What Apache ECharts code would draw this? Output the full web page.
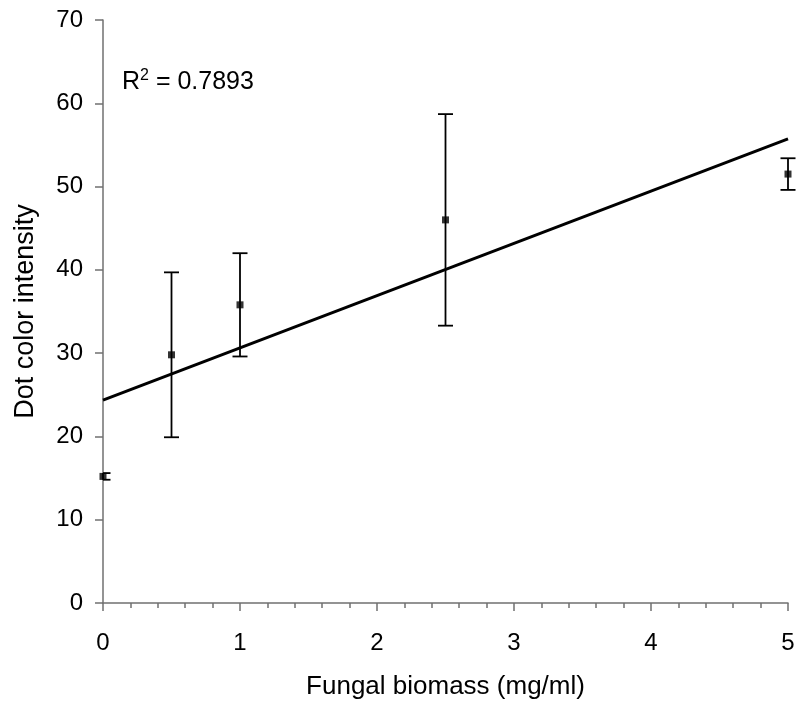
<!DOCTYPE html>
<html>
<head>
<meta charset="utf-8">
<script src="https://cdn.jsdelivr.net/npm/echarts@6/dist/echarts.min.js"></script>
<style>
  html, body { margin: 0; padding: 0; background: #fff; }
  #chart { width: 800px; height: 706px; }
</style>
</head>
<body>
<div id="chart"></div>
<script>
// Fungal biomass (mg/ml) vs. dot colour intensity, mean ± error
const biomass = [0, 0.5, 1, 2.5, 5];
const intensity = [15.2, 29.8, 35.8, 46.0, 51.5];
const errorAmt = [0.4, 9.9, 6.2, 12.7, 1.9];
const xTicks = [0, 1, 2, 3, 4, 5];
const yTicks = [0, 10, 20, 30, 40, 50, 60, 70];
const rSquaredText = '0.7893';

// least-squares linear trend through the means
function linearFit(xs, ys) {
  const n = xs.length;
  const mx = xs.reduce((a, b) => a + b, 0) / n;
  const my = ys.reduce((a, b) => a + b, 0) / n;
  let sxy = 0, sxx = 0;
  for (let i = 0; i < n; i++) {
    sxy += (xs[i] - mx) * (ys[i] - my);
    sxx += (xs[i] - mx) * (xs[i] - mx);
  }
  const slope = sxy / sxx;
  return { slope, intercept: my - slope * mx };
}
const fit = linearFit(biomass, intensity);
const xMin = xTicks[0], xMax = xTicks[xTicks.length - 1];
const trend = [
  [xMin, fit.intercept + fit.slope * xMin],
  [xMax, fit.intercept + fit.slope * xMax]
];

const points = biomass.map((x, i) => [x, intensity[i]]);
const bars = biomass.map((x, i) => [x, intensity[i] - errorAmt[i], intensity[i] + errorAmt[i]]);

const FONT = '"Liberation Sans", Arial, sans-serif';
const AXIS_COLOR = '#707070';

const chart = echarts.init(document.getElementById('chart'), null, { renderer: 'canvas' });
chart.setOption({
  animation: false,
  backgroundColor: '#ffffff',
  grid: {
    left: 103, right: 12, top: 20, bottom: 103,
    containLabel: false,
    outerBoundsMode: 'none'
  },
  xAxis: {
    type: 'value',
    min: xMin, max: xMax, interval: 1,
    name: 'Fungal biomass (mg/ml)',
    nameLocation: 'middle',
    nameGap: 71,
    nameTextStyle: { fontFamily: FONT, fontSize: 26, color: '#000' },
    axisLine: { show: true, onZero: false, lineStyle: { color: AXIS_COLOR, width: 1.5 } },
    axisTick: { show: true, inside: false, length: 8, lineStyle: { color: AXIS_COLOR, width: 1.5 } },
    minorTick: { show: true, splitNumber: 5, length: 5, lineStyle: { color: AXIS_COLOR, width: 1.5 } },
    axisLabel: { fontFamily: FONT, fontSize: 24, color: '#000', margin: 28 },
    splitLine: { show: false }
  },
  yAxis: {
    type: 'value',
    min: yTicks[0], max: yTicks[yTicks.length - 1], interval: 10,
    name: 'Dot color intensity',
    nameLocation: 'middle',
    nameGap: 64,
    nameTextStyle: { fontFamily: FONT, fontSize: 27, color: '#000' },
    axisLine: { show: true, onZero: false, lineStyle: { color: AXIS_COLOR, width: 1.5 } },
    axisTick: { show: true, inside: false, length: 8, lineStyle: { color: AXIS_COLOR, width: 1.5 } },
    axisLabel: { fontFamily: FONT, fontSize: 24, color: '#000', margin: 20 },
    splitLine: { show: false }
  },
  graphic: [{
    type: 'text',
    left: 122,
    top: 68,
    style: {
      rich: {
        base: { fontFamily: FONT, fontSize: 25, fill: '#000' },
        sup: { fontFamily: FONT, fontSize: 16, fill: '#000', padding: [0, 0, 12, 0] }
      },
      text: '{base|R}{sup|2}{base| = ' + rSquaredText + '}'
    }
  }],
  series: [
    {
      type: 'line',
      data: trend,
      showSymbol: false,
      lineStyle: { color: '#000', width: 3 },
      z: 2,
      silent: true
    },
    {
      type: 'custom',
      data: bars,
      z: 3,
      clip: false,
      renderItem: function (params, api) {
        const x = api.value(0);
        const lo = api.coord([x, api.value(1)]);
        const hi = api.coord([x, api.value(2)]);
        const leftEdge = params.coordSys.x;
        const cap = 7.5;
        const capL = Math.max(lo[0] - cap, leftEdge);
        const style = { stroke: '#000', lineWidth: 1.8 };
        return {
          type: 'group',
          children: [
            { type: 'line', shape: { x1: lo[0], y1: lo[1], x2: hi[0], y2: hi[1] }, style },
            { type: 'line', shape: { x1: capL, y1: lo[1], x2: lo[0] + cap, y2: lo[1] }, style },
            { type: 'line', shape: { x1: capL, y1: hi[1], x2: hi[0] + cap, y2: hi[1] }, style }
          ]
        };
      },
      encode: { x: 0, y: [1, 2] }
    },
    {
      type: 'scatter',
      data: points,
      symbol: 'rect',
      symbolSize: 7,
      itemStyle: { color: '#000' },
      z: 4
    }
  ]
});
</script>
</body>
</html>
